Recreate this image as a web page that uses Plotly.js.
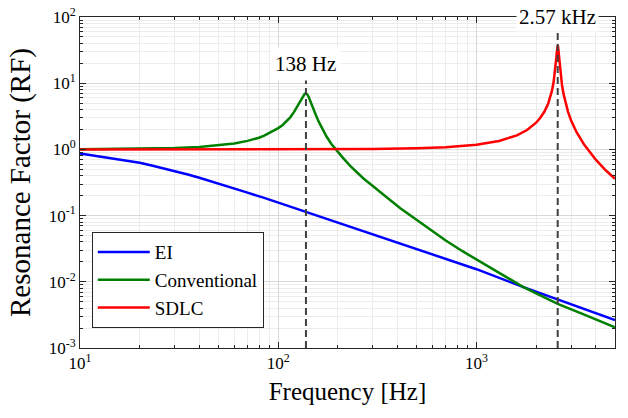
<!DOCTYPE html>
<html>
<head>
<meta charset="utf-8">
<script src="https://cdn.plot.ly/plotly-3.0.1.min.js"></script>
<style>html,body{margin:0;padding:0;background:#fff;}#chart{width:628px;height:418px;}</style>
</head>
<body>
<div id="chart"></div>
<script>
// ---- data ----
const freqEI = [10,11,12,13.5,15,17.5,20,23,26,30,35,40,45,50,60,70,85,100,120,138,170,200,300,413,600,1000,1726,2588,3500,5000];
const rfEI   = [0.87,0.835,0.80,0.762,0.72,0.675,0.63,0.571,0.524,0.475,0.418,0.373,0.336,0.305,0.258,0.222,0.185,0.157,0.132,0.114,0.0935,0.079,0.053,0.038,0.026,0.0155,0.0083,0.0054,0.0039,0.00265];

const freqConv = [10,20,30,40,50,60,70,80,85,90,95,100,105,110,115,120,125,130,134,136,138,140,142,146,150,155,160,165,170,175,185,196,210,230,250,270,300,327,360,413,460,500,586,700,850,1000,1300,1726,2000,2588,3500,5000];
const rfConv   = [1.005,1.02,1.05,1.09,1.15,1.23,1.345,1.5,1.62,1.76,1.93,2.1,2.32,2.63,3.05,3.66,4.5,5.65,6.6,6.92,7.0,6.8,6.35,5.25,4.2,3.28,2.62,2.16,1.83,1.58,1.22,0.98,0.77,0.57,0.45,0.36,0.28,0.23,0.18,0.129,0.103,0.085,0.0606,0.042,0.029,0.0219,0.0137,0.0083,0.0067,0.0046,0.0032,0.00205];

const freqSDLC = [10,100,300,500,700,1000,1300,1600,1800,2000,2100,2200,2250,2300,2350,2400,2450,2480,2500,2515,2530,2540,2550,2560,2570,2580,2590,2600,2610,2630,2650,2700,2750,2800,2900,3000,3200,3500,4000,4500,5000];
const rfSDLC   = [1.0,1.0,1.014,1.04,1.08,1.18,1.34,1.63,1.96,2.53,3.0,3.7,4.28,4.9,6.1,7.5,10.3,13.4,16.5,20.0,24.5,28.3,32.5,36.0,37.5,36.0,32.2,28.0,24.1,18.3,14.5,9.5,6.9,5.35,3.66,2.76,1.82,1.17,0.70,0.48,0.36];

const resFreq  = [138, 2570];
const resLabel = ['138 Hz', '2.57 kHz'];
const resLineTop = [12, 60];

const xTickVals = [10, 100, 1000];
const xTickText = ['10<sup>1</sup>', '10<sup>2</sup>', '10<sup>3</sup>'];
const yTickVals = [0.001, 0.01, 0.1, 1, 10, 100];
const yTickText = ['10<sup>-3</sup>', '10<sup>-2</sup>', '10<sup>-1</sup>', '10<sup>0</sup>', '10<sup>1</sup>', '10<sup>2</sup>'];

// minor tick positions (2..9 per decade)
function minorVals(lo, hi) {
  const v = [];
  for (let e = lo; e < hi; e++) for (let m = 2; m <= 9; m++) v.push(m * Math.pow(10, e));
  return v;
}

const FONT = 'Liberation Serif, Times New Roman, Times, serif';
const AX = '#262626';

const traces = [
  {x: freqEI, y: rfEI, name: 'EI', mode: 'lines', line: {color: '#0000ff', width: 2.5}},
  {x: freqConv, y: rfConv, name: 'Conventional', mode: 'lines', line: {color: '#008000', width: 2.5}},
  {x: freqSDLC, y: rfSDLC, name: 'SDLC', mode: 'lines', line: {color: '#ff0000', width: 2.5}}
];
resFreq.forEach((f, i) => {
  traces.push({x: [f, f], y: [0.001, resLineTop[i]], mode: 'lines', showlegend: false, hoverinfo: 'skip',
    line: {color: '#404040', width: 2, dash: '7px,4px'}});
});

const axCommon = {
  type: 'log', showline: true, linecolor: AX, linewidth: 1, mirror: 'ticks',
  ticks: 'inside', ticklen: 6, tickcolor: AX, tickwidth: 1,
  showgrid: true, gridcolor: '#d9d9d9', gridwidth: 1, zeroline: false,
  tickfont: {family: FONT, size: 17, color: '#000'}
};

const layout = {
  width: 628, height: 418,
  margin: {l: 80, r: 13, t: 17, b: 70},
  paper_bgcolor: '#fff', plot_bgcolor: '#fff',
  font: {family: FONT, color: '#000'},
  xaxis: Object.assign({}, axCommon, {
    range: [1, Math.log10(5000)], tickmode: 'array', tickvals: xTickVals, ticktext: xTickText,
    minor: {tickmode: 'array', tickvals: minorVals(1, 4).filter(v => v <= 5000), ticks: 'inside', ticklen: 3, tickcolor: AX, showgrid: true, gridcolor: '#ececec'},
    title: {text: 'Frequency [Hz]', font: {family: FONT, size: 25, color: '#000'}, standoff: 10}
  }),
  yaxis: Object.assign({}, axCommon, {
    range: [-3, 2], tickmode: 'array', tickvals: yTickVals, ticktext: yTickText,
    minor: {tickmode: 'array', tickvals: minorVals(-3, 2), ticks: 'inside', ticklen: 3, tickcolor: AX, showgrid: true, gridcolor: '#ececec'},
    title: {text: 'Resonance Factor (RF)', font: {family: FONT, size: 29, color: '#000'}, standoff: 9}
  }),
  legend: {
    x: 0.022, y: 0.06, xanchor: 'left', yanchor: 'bottom',
    bgcolor: '#fff', bordercolor: AX, borderwidth: 1,
    font: {family: FONT, size: 19, color: '#000'}, itemwidth: 52
  },
  annotations: [
    {x: Math.log10(resFreq[0]), y: 1.295, xref: 'x', yref: 'y', text: resLabel[0], showarrow: false,
     bgcolor: '#fff', borderpad: 4, font: {family: FONT, size: 21, color: '#000'}},
    {x: Math.log10(resFreq[1]), y: 1, xref: 'x', yref: 'paper', yanchor: 'middle', text: resLabel[1], showarrow: false,
     bgcolor: '#fff', borderpad: 2, font: {family: FONT, size: 21, color: '#000'}}
  ],
  showlegend: true
};

Plotly.newPlot('chart', traces, layout, {staticPlot: true, displayModeBar: false});
</script>
</body>
</html>
